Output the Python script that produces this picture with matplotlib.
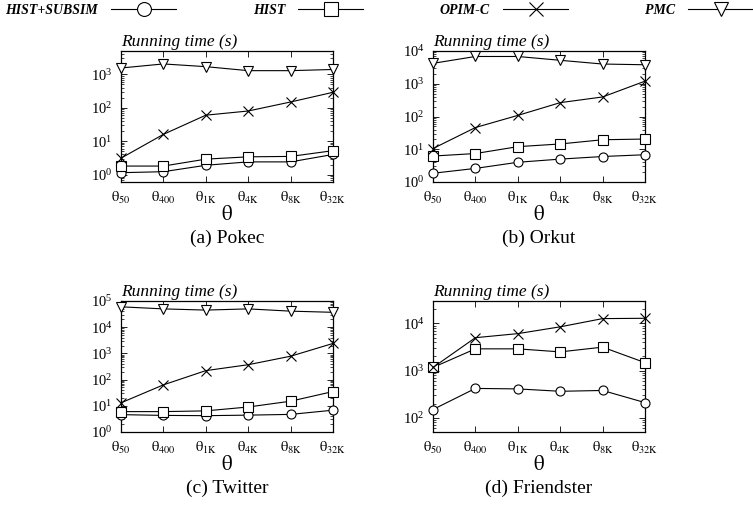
import matplotlib
matplotlib.use('Agg')
import matplotlib.pyplot as plt
from matplotlib.lines import Line2D
from matplotlib.ticker import LogLocator, NullFormatter, LogFormatterMathtext

plt.rcParams['font.family'] = ['Liberation Serif', 'DejaVu Serif']
plt.rcParams['mathtext.fontset'] = 'stix'

# x categories
thetas = [r'$\mathrm{θ}_{\mathrm{50}}$', r'$\mathrm{θ}_{\mathrm{400}}$', r'$\mathrm{θ}_{\mathrm{1K}}$',
          r'$\mathrm{θ}_{\mathrm{4K}}$', r'$\mathrm{θ}_{\mathrm{8K}}$', r'$\mathrm{θ}_{\mathrm{32K}}$']
methods = ['HIST+SUBSIM', 'HIST', 'OPIM-C', 'PMC']
markers = ['o', 's', 'x', 'v']

# running time (s) per dataset
pokec_subsim = [1.14, 1.22, 1.9, 2.4, 2.4, 4.0]
pokec_hist = [1.8, 1.8, 2.9, 3.4, 3.5, 5.2]
pokec_opim = [3.1, 16, 60, 80, 149, 290]
pokec_pmc = [1550, 2050, 1700, 1290, 1290, 1400]

orkut_subsim = [1.85, 2.6, 4.0, 5.0, 6.0, 6.8]
orkut_hist = [6.2, 7.4, 12, 14.5, 19.5, 20.5]
orkut_opim = [10.5, 46, 108, 265, 395, 1200]
orkut_pmc = [4200, 6800, 6800, 5200, 4000, 3800]

twitter_subsim = [4.6, 4.3, 4.2, 4.4, 4.7, 6.8]
twitter_hist = [6.0, 6.0, 6.4, 9.0, 15, 35]
twitter_opim = [13, 63, 220, 370, 780, 2400]
twitter_pmc = [60000, 50000, 45000, 50000, 41000, 37000]

friend_subsim = [150, 420, 410, 365, 380, 210]
friend_hist = [1170, 2900, 2900, 2500, 3150, 1480]
friend_opim = [1170, 5000, 6100, 8500, 12700, 12900]

panels = [
    ('(a) Pokec', [pokec_subsim, pokec_hist, pokec_opim, pokec_pmc], (0.6, 5000)),
    ('(b) Orkut', [orkut_subsim, orkut_hist, orkut_opim, orkut_pmc], (1, 1e4)),
    ('(c) Twitter', [twitter_subsim, twitter_hist, twitter_opim, twitter_pmc], (1, 1e5)),
    ('(d) Friendster', [friend_subsim, friend_hist, friend_opim, None], (50, 3e4)),
]

W, H = 753, 523
fig = plt.figure(figsize=(W / 100, H / 100), dpi=100)

# axes boxes in pixels: left, top, right, bottom
boxes = [(121, 51, 333, 182), (433, 51, 645, 182),
         (121, 301, 333, 432), (433, 301, 645, 432)]

for (title, series, ylim), (l, t, r, b) in zip(panels, boxes):
    ax = fig.add_axes([l / W, 1 - b / H, (r - l) / W, (b - t) / H])
    x = list(range(len(thetas)))
    for vals, mk in zip(series, markers):
        if vals is None:
            continue
        ax.plot(x, vals, color='black', lw=0.8, marker=mk, markersize=6.5,
                markerfacecolor='white', markeredgecolor='black',
                markeredgewidth=0.8, clip_on=False, zorder=3)
    ax.set_yscale('log')
    ax.set_ylim(*ylim)
    ax.set_xlim(0, len(thetas) - 1)
    ax.set_xticks(x)
    ax.set_xticklabels(thetas, fontsize=10)
    ax.yaxis.set_major_locator(LogLocator(base=10, subs=(1.0,), numticks=20))
    ax.yaxis.set_major_formatter(LogFormatterMathtext())
    ax.yaxis.set_minor_locator(LogLocator(base=10, subs=range(2, 10), numticks=20))
    ax.yaxis.set_minor_formatter(NullFormatter())
    ax.tick_params(axis='both', which='major', direction='in', length=4,
                   width=0.6, top=True, right=True, labelsize=10.5, pad=6)
    ax.tick_params(axis='y', which='minor', direction='in', length=2,
                   width=0.5, right=True)
    for s in ax.spines.values():
        s.set_linewidth(0.9)
    ax.set_xlabel(r'$\mathrm{θ}$', fontsize=15, labelpad=0)
    ax.text(0, 1.01, 'Running time (s)', transform=ax.transAxes,
            fontsize=12.5, style='italic', ha='left', va='bottom')
    ax.text(0.5, -0.43, title, transform=ax.transAxes, fontsize=14,
            ha='center', va='center')

handles = [Line2D([], [], color='black', lw=0.8, marker=mk, markersize=10,
                  markerfacecolor='white', markeredgewidth=0.8)
           for mk in markers]
fig.legend(handles, methods, loc='upper left', bbox_to_anchor=(5 / W, 1 - 4 / H),
           ncol=4, frameon=False, markerfirst=False, borderaxespad=0,
           borderpad=0, handlelength=4.7, handletextpad=0.95, columnspacing=5.5,
           prop={'size': 10, 'weight': 'bold', 'style': 'italic'})

fig.savefig('out.png', dpi=100)
